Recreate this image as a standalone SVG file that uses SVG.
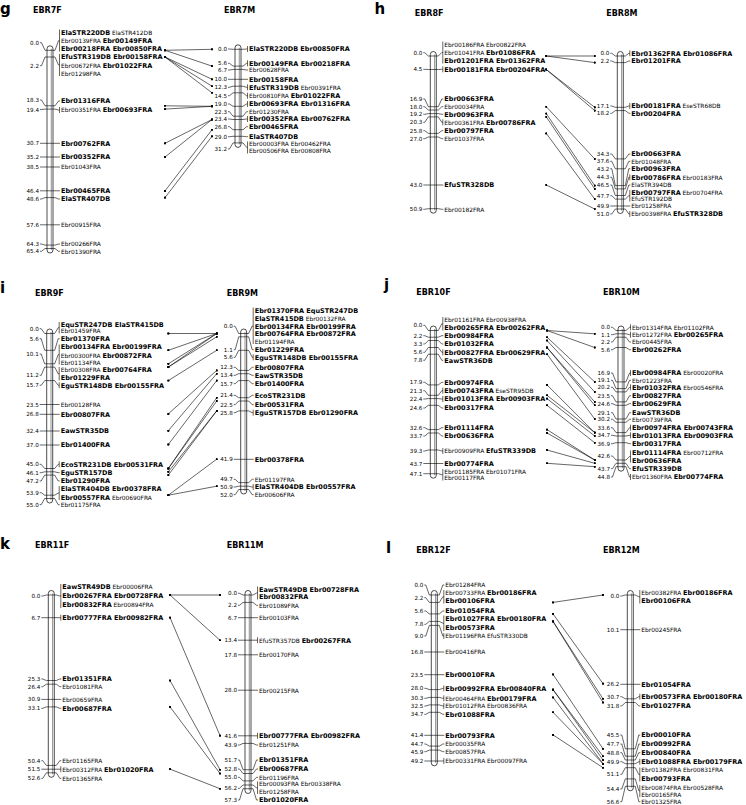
<svg xmlns="http://www.w3.org/2000/svg" width="746" height="805" viewBox="0 0 746 805">
<defs>
<marker id="dot" viewBox="0 0 4 4" refX="2" refY="2" markerWidth="2.4" markerHeight="2.4" markerUnits="userSpaceOnUse"><circle cx="2" cy="2" r="2" fill="#000"/></marker>
<style>
text{font-family:"DejaVu Sans",sans-serif;font-size:5.9px;fill:#000}
.n{font-size:5.6px;text-anchor:end}
.b{font-weight:bold;font-size:6.5px}
.ti{font-weight:bold;font-size:8px}
.pl{font-weight:bold;font-size:15px}
.chr{fill:#fff;stroke:#000;stroke-width:.7}
.inn{stroke:#9a9a9a;stroke-width:1.1}
.tk{fill:none;stroke:#000;stroke-width:.6}
.cn line{stroke:#000;stroke-width:.6;marker-start:url(#dot);marker-end:url(#dot)}
</style>
</defs>
<rect width="746" height="805" fill="#fff"/>
<g id="panel-letters">
<text class="pl" x="0" y="14">g</text>
<text class="pl" x="374.5" y="14">h</text>
<text class="pl" x="0" y="293">i</text>
<text class="pl" x="384" y="290">j</text>
<text class="pl" x="0" y="549">k</text>
<text class="pl" x="386" y="552.7">l</text>
</g>

<g id="EBR7F" transform="translate(47,0)">
<text class="ti" x="-14" y="12.5">EBR7F</text>
<rect class="chr" x="0" y="45.8" width="6" height="207.2" rx="3"/>
<line class="inn" x1="4.3" y1="48.8" x2="4.3" y2="250"/>
<path class="tk" d="M-7,42.7H-5.5L-2,50.3H8L11.5,40.7H12.5M12.5,29.5V51.5M-7,65.7H-5.5L-2,57H8L11.5,65H12.5M12.5,54V76M-7,100H-5.5L-2,105.8H8L11.5,101H13M-7,109.5H-5.5L-2,109.1H8L11.5,110H12.5M12.5,107V113M-7,143.3H13M-7,157H13M-7,167H13M-7,190.8H13M-7,199H-5.5L-2,197.6H8L11.5,199H13M-7,224.8H13M-7,244H-5.5L-2,245.1H8L11.5,244H13M-7,251.3H-5.5L-2,248.5H8L11.5,251.3H13"/>
<text class="n" x="-8" y="44.7">0.0</text><text class="n" x="-8" y="67.7">2.2</text><text class="n" x="-8" y="102">18.3</text><text class="n" x="-8" y="111.5">19.4</text><text class="n" x="-8" y="145.3">30.7</text><text class="n" x="-8" y="159">35.2</text><text class="n" x="-8" y="169">38.5</text><text class="n" x="-8" y="192.8">46.4</text><text class="n" x="-8" y="201">48.6</text><text class="n" x="-8" y="226.8">57.6</text><text class="n" x="-8" y="246">64.3</text><text class="n" x="-8" y="253.3">65.4</text>
<text x="14" y="34.6"><tspan class="b">ElaSTR220DB</tspan> ElaSTR412DB</text>
<text x="14" y="43">Ebr00139FRA <tspan class="b">Ebr00149FRA</tspan></text>
<text class="b" x="14" y="51.3">Ebr00218FRA Ebr00850FRA</text>
<text class="b" x="14" y="59">EfuSTR319DB Ebr00158FRA</text>
<text x="14" y="68">Ebr00672FRA <tspan class="b">Ebr01022FRA</tspan></text>
<text x="14" y="75.6">Ebr01298FRA</text>
<text class="b" x="14" y="103.3">Ebr01316FRA</text>
<text x="14" y="112.3">Ebr00351FRA <tspan class="b">Ebr00693FRA</tspan></text>
<text class="b" x="14" y="145.6">Ebr00762FRA</text>
<text class="b" x="14" y="159.3">Ebr00352FRA</text>
<text x="14" y="169.3">Ebr01043FRA</text>
<text class="b" x="14" y="193.1">Ebr00465FRA</text>
<text class="b" x="14" y="201.3">ElaSTR407DB</text>
<text x="14" y="227.1">Ebr00915FRA</text>
<text x="14" y="246.3">Ebr00266FRA</text>
<text x="14" y="253.6">Ebr01390FRA</text>
</g>

<g id="EBR7M" transform="translate(235,0)">
<text class="ti" x="-11" y="12.5">EBR7M</text>
<rect class="chr" x="0" y="44.8" width="6" height="102.6" rx="3"/>
<line class="inn" x1="4.3" y1="47.8" x2="4.3" y2="144.4"/>
<path class="tk" d="M-7,49H-5.5L-2,49.3H8L11.5,49H12.5M12.5,46V52M-7,63.3H-5.5L-2,66.1H8L11.5,63.3H12.5M12.5,60.3V66.3M-7,70H-5.5L-2,69.4H8L11.5,70H13M-7,79.3H13M-7,87.3H-5.5L-2,86.2H8L11.5,87.3H12.5M12.5,84.3V90.3M-7,95.7H-5.5L-2,92.8H8L11.5,95.7H12.5M12.5,92.7V98.7M-7,104H-5.5L-2,106.3H8L11.5,104H12.5M12.5,101V107M-7,111.7H-5.5L-2,116.2H8L11.5,111.7H13M-7,119H-5.5L-2,119.5H8L11.5,119H12.5M12.5,116V122M-7,126.7H-5.5L-2,129.7H8L11.5,126.7H13M-7,136.7H-5.5L-2,136.3H8L11.5,136.7H13M-7,149H-5.5L-2,142.9H8L11.5,147.3H12.5M12.5,141.5V153.5"/>
<text class="n" x="-8" y="51">0.0</text><text class="n" x="-8" y="65.3">5.6</text><text class="n" x="-8" y="72">6.7</text><text class="n" x="-8" y="81.3">10.0</text><text class="n" x="-8" y="89.3">12.3</text><text class="n" x="-8" y="97.7">14.5</text><text class="n" x="-8" y="106">19.0</text><text class="n" x="-8" y="113.7">22.3</text><text class="n" x="-8" y="121">23.4</text><text class="n" x="-8" y="128.7">26.8</text><text class="n" x="-8" y="138.7">29.0</text><text class="n" x="-8" y="151">31.2</text>
<text class="b" x="14" y="51.3">ElaSTR220DB Ebr00850FRA</text>
<text class="b" x="14" y="65.6">Ebr00149FRA Ebr00218FRA</text>
<text x="14" y="72.3">Ebr00628FRA</text>
<text class="b" x="14" y="81.6">Ebr00158FRA</text>
<text x="14" y="89.6"><tspan class="b">EfuSTR319DB</tspan> Ebr00391FRA</text>
<text x="14" y="98">Ebr00810FRA <tspan class="b">Ebr01022FRA</tspan></text>
<text class="b" x="14" y="106.3">Ebr00693FRA Ebr01316FRA</text>
<text x="14" y="114">Ebr01230FRA</text>
<text class="b" x="14" y="121.3">Ebr00352FRA Ebr00762FRA</text>
<text class="b" x="14" y="129">Ebr00465FRA</text>
<text class="b" x="14" y="139">ElaSTR407DB</text>
<text x="14" y="146.3">Ebr00003FRA Ebr00462FRA</text>
<text x="14" y="153">Ebr00506FRA Ebr00808FRA</text>
</g>

<g id="EBR8F" transform="translate(430.3,0)">
<text class="ti" x="-15.6" y="15.5">EBR8F</text>
<rect class="chr" x="0" y="51.5" width="6" height="161.7" rx="3"/>
<line class="inn" x1="4.3" y1="54.5" x2="4.3" y2="210.2"/>
<path class="tk" d="M-7,52.7H-5.5L-2,56H8L11.5,52.5H12.5M12.5,41.5V63.5M-7,69.3H-5.5L-2,69.5H8L11.5,69.3H12.5M12.5,66.3V72.3M-7,99H-5.5L-2,106.7H8L11.5,99H13M-7,106.7H-5.5L-2,110H8L11.5,106.7H13M-7,114.3H-5.5L-2,113.6H8L11.5,114.3H13M-7,122.3H-5.5L-2,116.9H8L11.5,122.3H12.5M12.5,119.3V125.3M-7,130.7H-5.5L-2,133.4H8L11.5,130.7H13M-7,138.7H-5.5L-2,137H8L11.5,138.7H13M-7,185H13M-7,209.3H-5.5L-2,208.7H8L11.5,209.3H13"/>
<text class="n" x="-8" y="54.7">0.0</text><text class="n" x="-8" y="71.3">4.5</text><text class="n" x="-8" y="101">16.9</text><text class="n" x="-8" y="108.7">18.0</text><text class="n" x="-8" y="116.3">19.2</text><text class="n" x="-8" y="124.3">20.3</text><text class="n" x="-8" y="132.7">25.8</text><text class="n" x="-8" y="140.7">27.0</text><text class="n" x="-8" y="187">43.0</text><text class="n" x="-8" y="211.3">50.9</text>
<text x="14" y="46.6">Ebr00186FRA Ebr00822FRA</text>
<text x="14" y="55">Ebr01041FRA <tspan class="b">Ebr01086FRA</tspan></text>
<text class="b" x="14" y="63">Ebr01201FRA Ebr01362FRA</text>
<text class="b" x="14" y="71.6">Ebr00181FRA Ebr00204FRA</text>
<text class="b" x="14" y="101.3">Ebr00663FRA</text>
<text x="14" y="109">Ebr00034FRA</text>
<text class="b" x="14" y="116.6">Ebr00963FRA</text>
<text x="14" y="124.6">Ebr00361FRA <tspan class="b">Ebr00786FRA</tspan></text>
<text class="b" x="14" y="133">Ebr00797FRA</text>
<text x="14" y="141">Ebr01037FRA</text>
<text class="b" x="14" y="187.3">EfuSTR328DB</text>
<text x="14" y="211.6">Ebr00182FRA</text>
</g>

<g id="EBR8M" transform="translate(617.3,0)">
<text class="ti" x="-11" y="15.5">EBR8M</text>
<rect class="chr" x="0" y="51.5" width="6" height="162" rx="3"/>
<line class="inn" x1="4.3" y1="54.5" x2="4.3" y2="210.5"/>
<path class="tk" d="M-7,53.3H-5.5L-2,56H8L11.5,53.3H12.5M12.5,50.3V56.3M-7,61H-5.5L-2,62.6H8L11.5,61H13M-7,106H-5.5L-2,107.3H8L11.5,106H12.5M12.5,103V109M-7,113.3H-5.5L-2,110.6H8L11.5,113.3H13M-7,154H-5.5L-2,158.9H8L11.5,154H13M-7,161.3H-5.5L-2,168.8H8L11.5,161.3H13M-7,168.7H-5.5L-2,185.6H8L11.5,168.7H13M-7,177.3H-5.5L-2,188.9H8L11.5,177.3H12.5M12.5,174.3V180.3M-7,185H-5.5L-2,195.5H8L11.5,185H13M-7,195.7H-5.5L-2,199.1H8L11.5,195.7H12.5M12.5,190V201.5M-7,206H13M-7,214H-5.5L-2,209H8L11.5,214H12.5M12.5,211V217"/>
<text class="n" x="-8" y="55.3">0.0</text><text class="n" x="-8" y="63">2.2</text><text class="n" x="-8" y="108">17.1</text><text class="n" x="-8" y="115.3">18.2</text><text class="n" x="-8" y="156">34.3</text><text class="n" x="-8" y="163.3">37.6</text><text class="n" x="-8" y="170.7">43.2</text><text class="n" x="-8" y="179.3">44.3</text><text class="n" x="-8" y="187">46.5</text><text class="n" x="-8" y="197.7">47.7</text><text class="n" x="-8" y="208">49.9</text><text class="n" x="-8" y="216">51.0</text>
<text class="b" x="14" y="55.6">Ebr01362FRA Ebr01086FRA</text>
<text class="b" x="14" y="63.3">Ebr01201FRA</text>
<text x="14" y="108.3"><tspan class="b">Ebr00181FRA</tspan> EseSTR68DB</text>
<text class="b" x="14" y="115.6">Ebr00204FRA</text>
<text class="b" x="14" y="156.3">Ebr00663FRA</text>
<text x="14" y="163.6">Ebr01048FRA</text>
<text class="b" x="14" y="171">Ebr00963FRA</text>
<text x="14" y="179.6"><tspan class="b">Ebr00786FRA</tspan> Ebr00183FRA</text>
<text x="14" y="187.3">ElaSTR394DB</text>
<text x="14" y="194.6"><tspan class="b">Ebr00797FRA</tspan> Ebr00704FRA</text>
<text x="14" y="201.3">EfuSTR192DB</text>
<text x="14" y="208.3">Ebr01258FRA</text>
<text x="14" y="216.3">Ebr00398FRA <tspan class="b">EfuSTR328DB</tspan></text>
</g>

<g id="EBR9F" transform="translate(46.7,0)">
<text class="ti" x="-11.7" y="296.3">EBR9F</text>
<rect class="chr" x="0" y="329" width="6" height="174" rx="3"/>
<line class="inn" x1="4.3" y1="332" x2="4.3" y2="500"/>
<path class="tk" d="M-7,328.7H-5.5L-2,333.5H8L11.5,327.7H12.5M12.5,322V333.5M-7,338.7H-5.5L-2,350.3H8L11.5,338.7H13M-7,354H-5.5L-2,363.8H8L11.5,354.7H12.5M12.5,344.5V364.5M-7,375.3H-5.5L-2,367.1H8L11.5,373.8H12.5M12.5,367V380.5M-7,385.3H-5.5L-2,380.6H8L11.5,385.3H12.5M12.5,382.3V388.3M-7,404.5H13M-7,414.3H13M-7,431H13M-7,445H13M-7,464.3H-5.5L-2,468.5H8L11.5,464.3H12.5M12.5,461.3V467.3M-7,472.7H-5.5L-2,471.8H8L11.5,472.7H13M-7,481H-5.5L-2,475.1H8L11.5,481H13M-7,492.7H-5.5L-2,495.2H8L11.5,493H12.5M12.5,486V500M-7,504.7H-5.5L-2,498.5H8L11.5,504.7H13"/>
<text class="n" x="-8" y="330.7">0.0</text><text class="n" x="-8" y="340.7">5.6</text><text class="n" x="-8" y="356">10.1</text><text class="n" x="-8" y="377.3">11.2</text><text class="n" x="-8" y="387.3">15.7</text><text class="n" x="-8" y="406.5">23.5</text><text class="n" x="-8" y="416.3">26.8</text><text class="n" x="-8" y="433">32.4</text><text class="n" x="-8" y="447">37.0</text><text class="n" x="-8" y="466.3">45.0</text><text class="n" x="-8" y="474.7">46.1</text><text class="n" x="-8" y="483">47.2</text><text class="n" x="-8" y="494.7">53.9</text><text class="n" x="-8" y="506.7">55.0</text>
<text class="b" x="14" y="327">EquSTR247DB ElaSTR415DB</text>
<text x="14" y="333">Ebr01459FRA</text>
<text class="b" x="14" y="341">Ebr01370FRA</text>
<text class="b" x="14" y="349.3">Ebr00134FRA Ebr00199FRA</text>
<text x="14" y="357.6">Ebr00300FRA <tspan class="b">Ebr00872FRA</tspan></text>
<text x="14" y="364.6">Ebr01134FRA</text>
<text x="14" y="372">Ebr00308FRA <tspan class="b">Ebr00764FRA</tspan></text>
<text class="b" x="14" y="380.3">Ebr01229FRA</text>
<text class="b" x="14" y="387.6">EguSTR148DB Ebr00155FRA</text>
<text x="14" y="406.8">Ebr00128FRA</text>
<text class="b" x="14" y="416.6">Ebr00807FRA</text>
<text class="b" x="14" y="433.3">EawSTR35DB</text>
<text class="b" x="14" y="447.3">Ebr01400FRA</text>
<text class="b" x="14" y="466.6">EcoSTR231DB Ebr00531FRA</text>
<text class="b" x="14" y="475">EguSTR157DB</text>
<text class="b" x="14" y="483.3">Ebr01290FRA</text>
<text class="b" x="14" y="491">ElaSTR404DB Ebr00378FRA</text>
<text x="14" y="499.6"><tspan class="b">Ebr00557FRA</tspan> Ebr00690FRA</text>
<text x="14" y="507">Ebr01175FRA</text>
</g>

<g id="EBR9M" transform="translate(240.7,0)">
<text class="ti" x="-14" y="296.3">EBR9M</text>
<rect class="chr" x="0" y="329" width="6" height="165" rx="3"/>
<line class="inn" x1="4.3" y1="332" x2="4.3" y2="491"/>
<path class="tk" d="M-7,326.3H-5.5L-2,333.5H8L11.5,326H12.5M12.5,307.5V344M-7,349.7H-5.5L-2,336.8H8L11.5,349.7H13M-7,357.3H-5.5L-2,350.3H8L11.5,357.3H12.5M12.5,354.3V360.3M-7,367.3H-5.5L-2,370.4H8L11.5,367.3H13M-7,375.3H-5.5L-2,373.7H8L11.5,375.3H13M-7,383.7H-5.5L-2,380.6H8L11.5,383.7H13M-7,395.3H-5.5L-2,397.7H8L11.5,395.3H13M-7,404.7H-5.5L-2,401H8L11.5,404.7H13M-7,412.7H-5.5L-2,410.9H8L11.5,412.7H12.5M12.5,409.7V415.7M-7,459.3H13M-7,479.3H-5.5L-2,482.6H8L11.5,479.3H13M-7,487H-5.5L-2,486.2H8L11.5,487H12.5M12.5,484V490M-7,494.7H-5.5L-2,489.5H8L11.5,494.7H13"/>
<text class="n" x="-8" y="328.3">0.0</text><text class="n" x="-8" y="351.7">1.1</text><text class="n" x="-8" y="359.3">5.6</text><text class="n" x="-8" y="369.3">12.3</text><text class="n" x="-8" y="377.3">13.4</text><text class="n" x="-8" y="385.7">15.7</text><text class="n" x="-8" y="397.3">21.4</text><text class="n" x="-8" y="406.7">22.5</text><text class="n" x="-8" y="414.7">25.8</text><text class="n" x="-8" y="461.3">41.9</text><text class="n" x="-8" y="481.3">49.7</text><text class="n" x="-8" y="489">50.9</text><text class="n" x="-8" y="496.7">52.0</text>
<text class="b" x="14" y="313">Ebr01370FRA EquSTR247DB</text>
<text x="14" y="321"><tspan class="b">ElaSTR415DB</tspan> Ebr00132FRA</text>
<text class="b" x="14" y="328.6">Ebr00134FRA Ebr00199FRA</text>
<text class="b" x="14" y="336.3">Ebr00764FRA Ebr00872FRA</text>
<text x="14" y="343.6">Ebr01194FRA</text>
<text class="b" x="14" y="352">Ebr01229FRA</text>
<text class="b" x="14" y="359.6">EguSTR148DB Ebr00155FRA</text>
<text class="b" x="14" y="369.6">Ebr00807FRA</text>
<text class="b" x="14" y="377.6">EawSTR35DB</text>
<text class="b" x="14" y="386">Ebr01400FRA</text>
<text class="b" x="14" y="397.6">EcoSTR231DB</text>
<text class="b" x="14" y="407">Ebr00531FRA</text>
<text class="b" x="14" y="415">EguSTR157DB Ebr01290FRA</text>
<text class="b" x="14" y="461.6">Ebr00378FRA</text>
<text x="14" y="481.6">Ebr01197FRA</text>
<text class="b" x="14" y="489.3">ElaSTR404DB Ebr00557FRA</text>
<text x="14" y="497">Ebr00606FRA</text>
</g>

<g id="EBR10F" transform="translate(430.3,0)">
<text class="ti" x="-14" y="294.7">EBR10F</text>
<rect class="chr" x="0" y="326" width="6" height="152.2" rx="3"/>
<line class="inn" x1="4.3" y1="329" x2="4.3" y2="475.2"/>
<path class="tk" d="M-7,325.3H-5.5L-2,330.5H8L11.5,323.8H12.5M12.5,317V330.5M-7,335.7H-5.5L-2,337.2H8L11.5,335.7H13M-7,344H-5.5L-2,340.5H8L11.5,344H13M-7,352.3H-5.5L-2,347.5H8L11.5,352.3H12.5M12.5,349.3V355.3M-7,360.3H-5.5L-2,354.2H8L11.5,360.3H13M-7,382.3H-5.5L-2,384.9H8L11.5,382.3H13M-7,390.7H-5.5L-2,395.3H8L11.5,390.7H12.5M12.5,387.7V393.7M-7,399H-5.5L-2,398.6H8L11.5,399H12.5M12.5,396V402M-7,408H-5.5L-2,405.3H8L11.5,408H13M-7,427.7H-5.5L-2,429.6H8L11.5,427.7H13M-7,436H-5.5L-2,433H8L11.5,436H13M-7,451H-5.5L-2,450H8L11.5,451H12.5M12.5,448V454M-7,463.5H13M-7,473.7H-5.5L-2,473.7H8L11.5,474.7H12.5M12.5,469V480.5"/>
<text class="n" x="-8" y="327.3">0.0</text><text class="n" x="-8" y="337.7">2.2</text><text class="n" x="-8" y="346">3.3</text><text class="n" x="-8" y="354.3">5.6</text><text class="n" x="-8" y="362.3">7.8</text><text class="n" x="-8" y="384.3">17.9</text><text class="n" x="-8" y="392.7">21.3</text><text class="n" x="-8" y="401">22.4</text><text class="n" x="-8" y="410">24.6</text><text class="n" x="-8" y="429.7">32.6</text><text class="n" x="-8" y="438">33.7</text><text class="n" x="-8" y="453">39.3</text><text class="n" x="-8" y="465.5">43.7</text><text class="n" x="-8" y="475.7">47.1</text>
<text x="14" y="322">Ebr01161FRA Ebr00938FRA</text>
<text class="b" x="14" y="330.3">Ebr00265FRA Ebr00262FRA</text>
<text class="b" x="14" y="338">Ebr00984FRA</text>
<text class="b" x="14" y="346.3">Ebr01032FRA</text>
<text class="b" x="14" y="354.6">Ebr00827FRA Ebr00629FRA</text>
<text class="b" x="14" y="362.6">EawSTR36DB</text>
<text class="b" x="14" y="384.6">Ebr00974FRA</text>
<text x="14" y="393"><tspan class="b">Ebr00743FRA</tspan> EseSTR95DB</text>
<text class="b" x="14" y="401.3">Ebr01013FRA Ebr00903FRA</text>
<text class="b" x="14" y="410.3">Ebr00317FRA</text>
<text class="b" x="14" y="430">Ebr01114FRA</text>
<text class="b" x="14" y="438.3">Ebr00636FRA</text>
<text x="14" y="453.3">Ebr00909FRA <tspan class="b">EfuSTR339DB</tspan></text>
<text class="b" x="14" y="465.8">Ebr00774FRA</text>
<text x="14" y="473.6">Ebr01185FRA Ebr01071FRA</text>
<text x="14" y="480.3">Ebr00117FRA</text>
</g>

<g id="EBR10M" transform="translate(618,0)">
<text class="ti" x="-15" y="294.7">EBR10M</text>
<rect class="chr" x="0" y="326" width="6" height="145.2" rx="3"/>
<line class="inn" x1="4.3" y1="329" x2="4.3" y2="468.2"/>
<path class="tk" d="M-7,327.3H-5.5L-2,330.5H8L11.5,327.3H12.5M12.5,324.3V330.3M-7,334.7H-5.5L-2,333.8H8L11.5,334.7H12.5M12.5,331.7V337.7M-7,342H-5.5L-2,337.2H8L11.5,342H13M-7,349.7H-5.5L-2,347.5H8L11.5,349.7H13M-7,373H-5.5L-2,381.9H8L11.5,373H12.5M12.5,370V376M-7,380.3H-5.5L-2,388.6H8L11.5,380.3H13M-7,387.3H-5.5L-2,391.9H8L11.5,387.3H12.5M12.5,384.3V390.3M-7,395.7H-5.5L-2,401.9H8L11.5,395.7H13M-7,403.7H-5.5L-2,405.3H8L11.5,403.7H13M-7,412.7H-5.5L-2,419H8L11.5,412.7H13M-7,419.3H-5.5L-2,422.3H8L11.5,419.3H13M-7,427.7H-5.5L-2,432.6H8L11.5,427.7H12.5M12.5,424.7V430.7M-7,435.3H-5.5L-2,436H8L11.5,435.3H12.5M12.5,432.3V438.3M-7,443.7H-5.5L-2,442.7H8L11.5,443.7H13M-7,456H-5.5L-2,460H8L11.5,456.5H12.5M12.5,450.5V462.5M-7,468.7H-5.5L-2,463.3H8L11.5,468.7H13M-7,477H-5.5L-2,466.7H8L11.5,477H12.5M12.5,474V480"/>
<text class="n" x="-8" y="329.3">0.0</text><text class="n" x="-8" y="336.7">1.1</text><text class="n" x="-8" y="344">2.2</text><text class="n" x="-8" y="351.7">5.6</text><text class="n" x="-8" y="375">16.9</text><text class="n" x="-8" y="382.3">19.1</text><text class="n" x="-8" y="389.3">20.2</text><text class="n" x="-8" y="397.7">23.5</text><text class="n" x="-8" y="405.7">24.6</text><text class="n" x="-8" y="414.7">29.1</text><text class="n" x="-8" y="421.3">30.2</text><text class="n" x="-8" y="429.7">33.6</text><text class="n" x="-8" y="437.3">34.7</text><text class="n" x="-8" y="445.7">36.9</text><text class="n" x="-8" y="458">42.6</text><text class="n" x="-8" y="470.7">43.7</text><text class="n" x="-8" y="479">44.8</text>
<text x="14" y="329.6">Ebr01314FRA Ebr01102FRA</text>
<text x="14" y="337">Ebr01272FRA <tspan class="b">Ebr00265FRA</tspan></text>
<text x="14" y="344.3">Ebr00445FRA</text>
<text class="b" x="14" y="352">Ebr00262FRA</text>
<text x="14" y="375.3"><tspan class="b">Ebr00984FRA</tspan> Ebr00020FRA</text>
<text x="14" y="382.6">Ebr01223FRA</text>
<text x="14" y="389.6"><tspan class="b">Ebr01032FRA</tspan> Ebr00546FRA</text>
<text class="b" x="14" y="398">Ebr00827FRA</text>
<text class="b" x="14" y="406">Ebr00629FRA</text>
<text class="b" x="14" y="415">EawSTR36DB</text>
<text x="14" y="421.6">Ebr00739FRA</text>
<text class="b" x="14" y="430">Ebr00974FRA Ebr00743FRA</text>
<text class="b" x="14" y="437.6">Ebr01013FRA Ebr00903FRA</text>
<text class="b" x="14" y="446">Ebr00317FRA</text>
<text x="14" y="455"><tspan class="b">Ebr01114FRA</tspan> Ebr00712FRA</text>
<text class="b" x="14" y="462.6">Ebr00636FRA</text>
<text class="b" x="14" y="471">EfuSTR339DB</text>
<text x="14" y="479.3">Ebr01360FRA <tspan class="b">Ebr00774FRA</tspan></text>
</g>

<g id="EBR11F" transform="translate(48.3,0)">
<text class="ti" x="-13.3" y="547.7">EBR11F</text>
<rect class="chr" x="0" y="590.5" width="6" height="186.8" rx="3"/>
<line class="inn" x1="4.3" y1="593.5" x2="4.3" y2="774.3"/>
<path class="tk" d="M-7,596H-5.5L-2,595H8L11.5,596H12.5M12.5,584V608M-7,617.7H12.5M12.5,614.7V620.7M-7,679H-5.5L-2,680.5H8L11.5,679H13M-7,686.7H-5.5L-2,684.2H8L11.5,686.7H13M-7,699.4H13M-7,708.3H-5.5L-2,706.9H8L11.5,708.3H13M-7,760.7H-5.5L-2,765.4H8L11.5,760.7H13M-7,769.2H12.5M12.5,766.2V772.2M-7,778.3H-5.5L-2,772.8H8L11.5,778.3H13"/>
<text class="n" x="-8" y="598">0.0</text><text class="n" x="-8" y="619.7">6.7</text><text class="n" x="-8" y="681">25.3</text><text class="n" x="-8" y="688.7">26.4</text><text class="n" x="-8" y="701.4">30.9</text><text class="n" x="-8" y="710.3">33.1</text><text class="n" x="-8" y="762.7">50.4</text><text class="n" x="-8" y="771.2">51.5</text><text class="n" x="-8" y="780.3">52.6</text>
<text x="14" y="589.3"><tspan class="b">EawSTR49DB</tspan> Ebr00006FRA</text>
<text class="b" x="14" y="598.3">Ebr00267FRA Ebr00728FRA</text>
<text x="14" y="607.3"><tspan class="b">Ebr00832FRA</tspan> Ebr00894FRA</text>
<text class="b" x="14" y="620">Ebr00777FRA Ebr00982FRA</text>
<text class="b" x="14" y="681.3">Ebr01351FRA</text>
<text x="14" y="689">Ebr01081FRA</text>
<text x="14" y="701.7">Ebr00659FRA</text>
<text class="b" x="14" y="710.6">Ebr00687FRA</text>
<text x="14" y="763">Ebr01165FRA</text>
<text x="14" y="771.5">Ebr00312FRA <tspan class="b">Ebr01020FRA</tspan></text>
<text x="14" y="780.6">Ebr01365FRA</text>
</g>

<g id="EBR11M" transform="translate(245,0)">
<text class="ti" x="-18.3" y="547.7">EBR11M</text>
<rect class="chr" x="0" y="590.5" width="6" height="203" rx="3"/>
<line class="inn" x1="4.3" y1="593.5" x2="4.3" y2="790.5"/>
<path class="tk" d="M-7,593.3H-5.5L-2,595H8L11.5,593H12.5M12.5,586.5V599.5M-7,605.3H-5.5L-2,602.4H8L11.5,605.3H13M-7,617.7H13M-7,640.2H12.5M12.5,637.2V643.2M-7,654.8H13M-7,690.2H13M-7,735.8H12.5M12.5,732.8V738.8M-7,745H-5.5L-2,743.4H8L11.5,745H13M-7,760H-5.5L-2,769.7H8L11.5,760H13M-7,769H-5.5L-2,773.5H8L11.5,769H13M-7,777.3H-5.5L-2,780.9H8L11.5,777.3H13M-7,788.3H-5.5L-2,785H8L11.5,787.8H12.5M12.5,781.5V794M-7,800H-5.5L-2,788.7H8L11.5,800H13"/>
<text class="n" x="-8" y="595.3">0.0</text><text class="n" x="-8" y="607.3">2.2</text><text class="n" x="-8" y="619.7">6.7</text><text class="n" x="-8" y="642.2">13.4</text><text class="n" x="-8" y="656.8">17.8</text><text class="n" x="-8" y="692.2">28.0</text><text class="n" x="-8" y="737.8">41.6</text><text class="n" x="-8" y="747">43.9</text><text class="n" x="-8" y="762">51.7</text><text class="n" x="-8" y="771">52.8</text><text class="n" x="-8" y="779.3">55.0</text><text class="n" x="-8" y="790.3">56.2</text><text class="n" x="-8" y="802">57.3</text>
<text class="b" x="14" y="591.6">EawSTR49DB Ebr00728FRA</text>
<text class="b" x="14" y="599.3">Ebr00832FRA</text>
<text x="14" y="607.6">Ebr01089FRA</text>
<text x="14" y="620">Ebr00103FRA</text>
<text x="14" y="642.5">EfuSTR357DB <tspan class="b">Ebr00267FRA</tspan></text>
<text x="14" y="657.1">Ebr00170FRA</text>
<text x="14" y="692.5">Ebr00215FRA</text>
<text class="b" x="14" y="738.1">Ebr00777FRA Ebr00982FRA</text>
<text x="14" y="747.3">Ebr01251FRA</text>
<text class="b" x="14" y="762.3">Ebr01351FRA</text>
<text class="b" x="14" y="771.3">Ebr00687FRA</text>
<text x="14" y="779.6">Ebr01196FRA</text>
<text x="14" y="786.3">Ebr00093FRA Ebr00338FRA</text>
<text x="14" y="794">Ebr01258FRA</text>
<text class="b" x="14" y="802.3">Ebr01020FRA</text>
</g>

<g id="EBR12F" transform="translate(431.3,0)">
<text class="ti" x="-15" y="552.7">EBR12F</text>
<rect class="chr" x="0" y="590.5" width="6" height="175.3" rx="3"/>
<line class="inn" x1="4.3" y1="593.5" x2="4.3" y2="762.8"/>
<path class="tk" d="M-7,585H-5.5L-2,595H8L11.5,585H13M-7,597.7H-5.5L-2,602.4H8L11.5,596.8H12.5M12.5,590V603.5M-7,611H-5.5L-2,613.9H8L11.5,611H13M-7,624.3H-5.5L-2,621.4H8L11.5,623.2H12.5M12.5,615.5V631M-7,636H-5.5L-2,625.4H8L11.5,636H12.5M12.5,633V639M-7,652H13M-7,674.7H13M-7,688.3H-5.5L-2,689.6H8L11.5,688.3H12.5M12.5,685.3V691.3M-7,698.3H-5.5L-2,697.4H8L11.5,698.3H12.5M12.5,695.3V701.3M-7,706H-5.5L-2,704.9H8L11.5,706H12.5M12.5,703V709M-7,714.3H-5.5L-2,712.3H8L11.5,714.3H13M-7,735.3H13M-7,744H-5.5L-2,746.1H8L11.5,744H13M-7,751.7H-5.5L-2,750.1H8L11.5,751.7H13M-7,761H12.5M12.5,758V764"/>
<text class="n" x="-8" y="587">0.0</text><text class="n" x="-8" y="599.7">2.2</text><text class="n" x="-8" y="613">5.6</text><text class="n" x="-8" y="626.3">7.8</text><text class="n" x="-8" y="638">9.0</text><text class="n" x="-8" y="654">16.8</text><text class="n" x="-8" y="676.7">23.5</text><text class="n" x="-8" y="690.3">28.0</text><text class="n" x="-8" y="700.3">30.3</text><text class="n" x="-8" y="708">32.5</text><text class="n" x="-8" y="716.3">34.7</text><text class="n" x="-8" y="737.3">41.4</text><text class="n" x="-8" y="746">44.7</text><text class="n" x="-8" y="753.7">45.9</text><text class="n" x="-8" y="763">49.2</text>
<text x="14" y="587.3">Ebr01284FRA</text>
<text x="14" y="595">Ebr00733FRA <tspan class="b">Ebr00186FRA</tspan></text>
<text class="b" x="14" y="603.3">Ebr00106FRA</text>
<text class="b" x="14" y="613.3">Ebr01054FRA</text>
<text class="b" x="14" y="621">Ebr01027FRA Ebr00180FRA</text>
<text class="b" x="14" y="630">Ebr00573FRA</text>
<text x="14" y="638.3">Ebr01196FRA EfuSTR330DB</text>
<text x="14" y="654.3">Ebr00416FRA</text>
<text class="b" x="14" y="677">Ebr00010FRA</text>
<text class="b" x="14" y="690.6">Ebr00992FRA Ebr00840FRA</text>
<text x="14" y="700.6">Ebr00464FRA <tspan class="b">Ebr00179FRA</tspan></text>
<text x="14" y="708.3">Ebr01012FRA Ebr00836FRA</text>
<text class="b" x="14" y="716.6">Ebr01088FRA</text>
<text class="b" x="14" y="737.6">Ebr00793FRA</text>
<text x="14" y="746.3">Ebr00035FRA</text>
<text x="14" y="754">Ebr00857FRA</text>
<text x="14" y="763.3">Ebr00331FRA Ebr00097FRA</text>
</g>

<g id="EBR12M" transform="translate(627.3,0)">
<text class="ti" x="-24.3" y="552.7">EBR12M</text>
<rect class="chr" x="0" y="590.5" width="6" height="200.3" rx="3"/>
<line class="inn" x1="4.3" y1="593.5" x2="4.3" y2="787.8"/>
<path class="tk" d="M-7,596H-5.5L-2,595H8L11.5,596.8H12.5M12.5,590V603.5M-7,629.7H13M-7,684.3H13M-7,696.7H-5.5L-2,698.8H8L11.5,696.7H12.5M12.5,693.7V699.7M-7,706H-5.5L-2,702.5H8L11.5,706H13M-7,735H-5.5L-2,748.8H8L11.5,735H13M-7,744H-5.5L-2,756.2H8L11.5,744H13M-7,752.7H-5.5L-2,760H8L11.5,752.7H13M-7,761.7H-5.5L-2,763.7H8L11.5,761.7H12.5M12.5,758.7V764.7M-7,774.3H-5.5L-2,767.7H8L11.5,774.5H12.5M12.5,767.5V781.5M-7,789H-5.5L-2,778.9H8L11.5,790.8H12.5M12.5,785V797M-7,801.7H-5.5L-2,786.3H8L11.5,801.7H13"/>
<text class="n" x="-8" y="598">0.0</text><text class="n" x="-8" y="631.7">10.1</text><text class="n" x="-8" y="686.3">26.2</text><text class="n" x="-8" y="698.7">30.7</text><text class="n" x="-8" y="708">31.8</text><text class="n" x="-8" y="737">45.5</text><text class="n" x="-8" y="746">47.7</text><text class="n" x="-8" y="754.7">48.8</text><text class="n" x="-8" y="763.7">49.9</text><text class="n" x="-8" y="776.3">51.1</text><text class="n" x="-8" y="791">54.4</text><text class="n" x="-8" y="803.7">56.6</text>
<text x="14" y="595">Ebr00382FRA <tspan class="b">Ebr00186FRA</tspan></text>
<text class="b" x="14" y="603.3">Ebr00106FRA</text>
<text x="14" y="632">Ebr00245FRA</text>
<text class="b" x="14" y="686.6">Ebr01054FRA</text>
<text class="b" x="14" y="699">Ebr00573FRA Ebr00180FRA</text>
<text class="b" x="14" y="708.3">Ebr01027FRA</text>
<text class="b" x="14" y="737.3">Ebr00010FRA</text>
<text class="b" x="14" y="746.3">Ebr00992FRA</text>
<text class="b" x="14" y="755">Ebr00840FRA</text>
<text class="b" x="14" y="764">Ebr01088FRA Ebr00179FRA</text>
<text x="14" y="772.3">Ebr01382FRA Ebr00831FRA</text>
<text class="b" x="14" y="781.3">Ebr00793FRA</text>
<text x="14" y="789.6">Ebr00874FRA Ebr00528FRA</text>
<text x="14" y="796.6">Ebr00165FRA</text>
<text x="14" y="804">Ebr01325FRA</text>
</g>

<g id="connectors" class="cn">
<line x1="165" y1="50.3" x2="212" y2="49.3"/>
<line x1="165" y1="50.3" x2="212" y2="66.1"/>
<line x1="165" y1="57" x2="212" y2="79.3"/>
<line x1="165" y1="57" x2="212" y2="86.2"/>
<line x1="165" y1="57" x2="212" y2="92.8"/>
<line x1="165" y1="105.8" x2="212" y2="106.3"/>
<line x1="165" y1="109.1" x2="212" y2="106.3"/>
<line x1="165" y1="143.3" x2="212" y2="119.5"/>
<line x1="165" y1="157" x2="212" y2="119.5"/>
<line x1="165" y1="190.9" x2="212" y2="129.7"/>
<line x1="165" y1="197.6" x2="212" y2="136.3"/>

<line x1="546.3" y1="56" x2="594.7" y2="56"/>
<line x1="546.3" y1="56" x2="594.7" y2="62.6"/>
<line x1="546.3" y1="69.5" x2="594.7" y2="107.3"/>
<line x1="546.3" y1="69.5" x2="594.7" y2="110.6"/>
<line x1="546.3" y1="106.7" x2="594.7" y2="158.9"/>
<line x1="546.3" y1="113.6" x2="594.7" y2="185.6"/>
<line x1="546.3" y1="116.9" x2="594.7" y2="188.9"/>
<line x1="546.3" y1="133.4" x2="594.7" y2="199.1"/>
<line x1="546.3" y1="185" x2="594.7" y2="209"/>

<line x1="168.3" y1="333.5" x2="216.7" y2="333.5"/>
<line x1="168.3" y1="350.3" x2="216.7" y2="333.5"/>
<line x1="168.3" y1="363.8" x2="216.7" y2="333.5"/>
<line x1="168.3" y1="367.1" x2="216.7" y2="333.5"/>
<line x1="168.3" y1="367.1" x2="216.7" y2="336.8"/>
<line x1="168.3" y1="380.6" x2="216.7" y2="350.3"/>
<line x1="168.3" y1="413.9" x2="216.7" y2="370.4"/>
<line x1="168.3" y1="430.7" x2="216.7" y2="373.7"/>
<line x1="168.3" y1="444.5" x2="216.7" y2="380.6"/>
<line x1="168.3" y1="468.5" x2="216.7" y2="397.7"/>
<line x1="168.3" y1="468.5" x2="216.7" y2="401"/>
<line x1="168.3" y1="471.8" x2="216.7" y2="410.9"/>
<line x1="168.3" y1="475.1" x2="216.7" y2="410.9"/>
<line x1="168.3" y1="495.2" x2="216.7" y2="459.2"/>
<line x1="168.3" y1="495.2" x2="216.7" y2="486.2"/>

<line x1="547" y1="330.5" x2="594.7" y2="333.8"/>
<line x1="547" y1="330.5" x2="594.7" y2="347.5"/>
<line x1="547" y1="337.2" x2="594.7" y2="381.9"/>
<line x1="547" y1="340.5" x2="594.7" y2="391.9"/>
<line x1="547" y1="347.5" x2="594.7" y2="401.9"/>
<line x1="547" y1="347.5" x2="594.7" y2="405.3"/>
<line x1="547" y1="354.2" x2="594.7" y2="419"/>
<line x1="547" y1="384.9" x2="594.7" y2="432.6"/>
<line x1="547" y1="395.3" x2="594.7" y2="432.6"/>
<line x1="547" y1="398.6" x2="594.7" y2="436"/>
<line x1="547" y1="405.3" x2="594.7" y2="442.7"/>
<line x1="547" y1="429.6" x2="594.7" y2="460"/>
<line x1="547" y1="433" x2="594.7" y2="460"/>
<line x1="547" y1="450" x2="594.7" y2="463.3"/>
<line x1="547" y1="463.3" x2="594.7" y2="466.7"/>

<line x1="170" y1="595" x2="220" y2="595"/>
<line x1="170" y1="595" x2="220" y2="640.3"/>
<line x1="170" y1="617.6" x2="220" y2="735.6"/>
<line x1="170" y1="680.5" x2="220" y2="769.7"/>
<line x1="170" y1="706.9" x2="220" y2="773.5"/>
<line x1="170" y1="769.1" x2="220" y2="788.7"/>

<line x1="553" y1="602.4" x2="603" y2="595"/>
<line x1="553" y1="613.9" x2="603" y2="683.6"/>
<line x1="553" y1="621.4" x2="603" y2="698.8"/>
<line x1="553" y1="621.4" x2="603" y2="702.5"/>
<line x1="553" y1="674.4" x2="603" y2="748.8"/>
<line x1="553" y1="689.6" x2="603" y2="756.2"/>
<line x1="553" y1="689.6" x2="603" y2="760"/>
<line x1="553" y1="697.4" x2="603" y2="763.7"/>
<line x1="553" y1="712.3" x2="603" y2="763.7"/>
<line x1="553" y1="734.9" x2="603" y2="767.7"/>
</g>
</svg>
